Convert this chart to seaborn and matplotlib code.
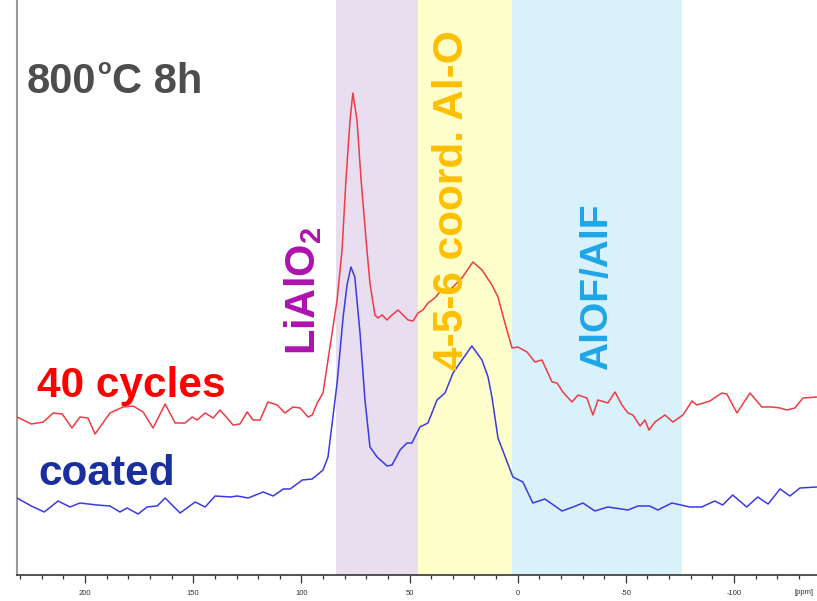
import numpy as np
import pandas as pd
import seaborn as sns
import matplotlib
matplotlib.use("Agg")
import matplotlib.pyplot as plt
import matplotlib.transforms as mtransforms
from matplotlib.ticker import MultipleLocator, FixedLocator

# 27Al MAS NMR spectra, chemical shift in ppm (intensity in arbitrary units)
ppm_cycled = [231.5, 224.9, 219.3, 214.8, 210.6, 206.1, 202.4, 198.7, 195.4, 188.5,
              182.5, 177.8, 173.2, 168.6, 163.0, 158.4, 153.8, 150.5, 148.2, 144.5,
              140.8, 137.6, 131.6, 128.4, 125.1, 122.4, 119.1, 115.5, 111.2, 107.6,
              103.9, 100.6, 96.9, 95.0, 92.7, 90.0, 87.7, 83.5, 81.2, 79.4,
              77.5, 76.2, 74.3, 72.4, 69.7, 68.3, 66.0, 64.6, 62.7, 60.4,
              58.1, 55.3, 53.0, 50.7, 48.4, 46.1, 43.8, 41.5, 38.3, 36.0,
              31.3, 25.8, 20.7, 16.5, 11.9, 9.1, 5.9, 2.6, -0.1, -4.3,
              -8.0, -11.2, -15.9, -18.2, -20.9, -25.1, -27.9, -32.0, -34.8, -37.1,
              -41.7, -45.0, -48.2, -51.0, -53.3, -56.6, -58.8, -60.7, -63.5, -68.1,
              -71.8, -76.4, -80.6, -82.8, -88.9, -94.4, -96.7, -101.4, -107.4, -112.9,
              -117.6, -121.3, -124.5, -128.2, -131.9, -138.4]
int_cycled = [158, 151, 153, 162, 161, 147, 158, 157, 141, 162,
              168, 169, 163, 147, 171, 152, 152, 158, 155, 162,
              157, 165, 150, 151, 163, 155, 155, 173, 170, 162,
              168, 167, 158, 160, 172, 182, 215, 275, 325, 395,
              455, 482, 455, 395, 325, 292, 260, 257, 260, 255,
              260, 265, 260, 255, 254, 262, 265, 272, 277, 283,
              285, 297, 313, 305, 290, 278, 252, 227, 228, 223,
              213, 215, 193, 192, 183, 173, 180, 177, 160, 175,
              172, 183, 170, 162, 160, 149, 155, 145, 153, 160,
              153, 160, 174, 170, 174, 182, 181, 162, 182, 168,
              168, 167, 165, 167, 177, 178]

ppm_coated = [231.5, 224.9, 218.9, 212.5, 207.0, 202.4, 194.5, 188.5, 183.9, 180.6,
              175.5, 171.4, 166.7, 163.0, 156.1, 149.1, 144.5, 139.9, 132.9, 129.7,
              124.6, 117.7, 113.0, 108.4, 105.2, 99.6, 95.0, 90.0, 87.7, 83.5,
              80.7, 78.9, 77.1, 75.3, 72.9, 70.6, 68.3, 65.0, 60.4, 58.1,
              54.4, 51.2, 48.9, 45.2, 41.5, 37.3, 33.6, 29.9, 26.7, 21.2,
              16.5, 13.7, 11.9, 9.1, 2.2, -2.4, -7.0, -12.6, -20.5, -25.6,
              -30.2, -35.7, -41.7, -51.0, -55.6, -61.1, -64.8, -71.3, -79.6, -85.1,
              -91.1, -94.8, -99.4, -105.9, -111.0, -115.8, -121.3, -125.9, -130.5, -138.4]
int_coated = [77, 69, 63, 74, 68, 72, 70, 69, 63, 67,
              61, 68, 69, 77, 62, 73, 68, 79, 78, 79,
              77, 83, 79, 86, 86, 95, 96, 105, 118, 192,
              258, 290, 308, 298, 242, 175, 128, 118, 109, 110,
              125, 132, 132, 148, 152, 175, 182, 202, 212, 229,
              215, 198, 178, 137, 98, 93, 72, 76, 64, 68,
              72, 64, 68, 65, 69, 69, 65, 72, 68, 68,
              74, 70, 80, 68, 78, 71, 86, 79, 87, 88]

# Shift regions (ppm) for the assigned Al environments
band_lo = [46.0, 2.5, -76.0]
band_hi = [84.0, 46.0, 2.5]
band_colors = ["#E8DEF0", "#FFFFCC", "#D8F1FA"]

major_ticks = [200, 150, 100, 50, 0, -50, -100]

sns.set_style("white")
plt.rcParams["font.family"] = ["Liberation Sans", "DejaVu Sans"]
plt.rcParams["mathtext.fontset"] = "custom"
plt.rcParams["mathtext.rm"] = "Liberation Sans"
plt.rcParams["mathtext.bf"] = "Liberation Sans:bold"
plt.rcParams["axes.unicode_minus"] = False

fig = plt.figure(figsize=(8.17, 6.01), dpi=100)
ax = fig.add_axes([17 / 817, 26 / 601, 800 / 817, 575 / 601])

for lo, hi, c in zip(band_lo, band_hi, band_colors):
    ax.axvspan(lo, hi, color=c, lw=0, zorder=0)

df_cyc = pd.DataFrame({"ppm": ppm_cycled, "intensity": int_cycled})
df_coat = pd.DataFrame({"ppm": ppm_coated, "intensity": int_coated})
sns.lineplot(data=df_cyc, x="ppm", y="intensity", ax=ax, color="#EE3B45",
             lw=1.1, estimator=None, sort=False, zorder=3,
             solid_joinstyle="round", solid_capstyle="round")
sns.lineplot(data=df_coat, x="ppm", y="intensity", ax=ax, color="#3A3AE0",
             lw=1.1, estimator=None, sort=False, zorder=3,
             solid_joinstyle="round", solid_capstyle="round")

ax.set_xlim(231.5, -138.4)
ax.set_ylim(0, 575)
ax.set_xlabel("")
ax.set_ylabel("")
ax.set_yticks([])

ax.xaxis.set_major_locator(FixedLocator(major_ticks))
ax.xaxis.set_minor_locator(MultipleLocator(10))
ax.tick_params(axis="x", which="major", direction="out", length=6, width=0.9,
               color="#333333", labelsize=5.5, labelcolor="#333333", pad=5, bottom=True)
ax.tick_params(axis="x", which="minor", direction="out", length=3, width=0.9,
               color="#333333", bottom=True)

for side in ["top", "right"]:
    ax.spines[side].set_visible(False)
ax.spines["left"].set_color("#9A9A9A")
ax.spines["left"].set_linewidth(1.5)
ax.spines["bottom"].set_color("#444444")
ax.spines["bottom"].set_linewidth(1.3)

ax.text(-128.0, -0.031, "[ppm]", transform=ax.get_xaxis_transform(), fontsize=5.5,
        color="#333333", ha="left", va="center", clip_on=False)

# Title: "800" + raised small "o" + "C 8h"
title_color = "#4D4D4D"
t1 = ax.text(226.9, 482, "800", fontsize=30, fontweight="bold", color=title_color,
             ha="left", va="baseline")
fig.canvas.draw()
renderer = fig.canvas.get_renderer()
bb1 = t1.get_window_extent(renderer)
base = ax.transData.transform((226.9, 482))[1]
t2 = ax.text(bb1.x1 + 1, base + 18.5, "o", fontsize=16, fontweight="bold",
             color=title_color, ha="left", va="baseline",
             transform=mtransforms.IdentityTransform())
bb2 = t2.get_window_extent(renderer)
ax.text(bb2.x1 + 1, base, "C 8h", fontsize=30, fontweight="bold", color=title_color,
        ha="left", va="baseline", transform=mtransforms.IdentityTransform())

ax.text(222.2, 178, "40 cycles", fontsize=30.5, fontweight="bold", color="#FF0000",
        ha="left", va="baseline")
ax.text(221.7, 90, "coated", fontsize=30.5, fontweight="bold", color="#1A2E9E",
        ha="left", va="baseline")

ax.text(93.6, 220, r"$\mathbf{LiAlO_2}$", fontsize=30, color="#AE12AE",
        rotation=90, rotation_mode="anchor", ha="left", va="baseline")
ax.text(25.3, 205, "4-5-6 coord. Al-O", fontsize=30.5, fontweight="bold", color="#FFC000",
        rotation=90, rotation_mode="anchor", ha="left", va="baseline")
ax.text(-41.4, 205, "AlOF/AlF", fontsize=28, fontweight="bold", color="#1EA6E6",
        rotation=90, rotation_mode="anchor", ha="left", va="baseline")

fig.savefig("out.png", dpi=100)
